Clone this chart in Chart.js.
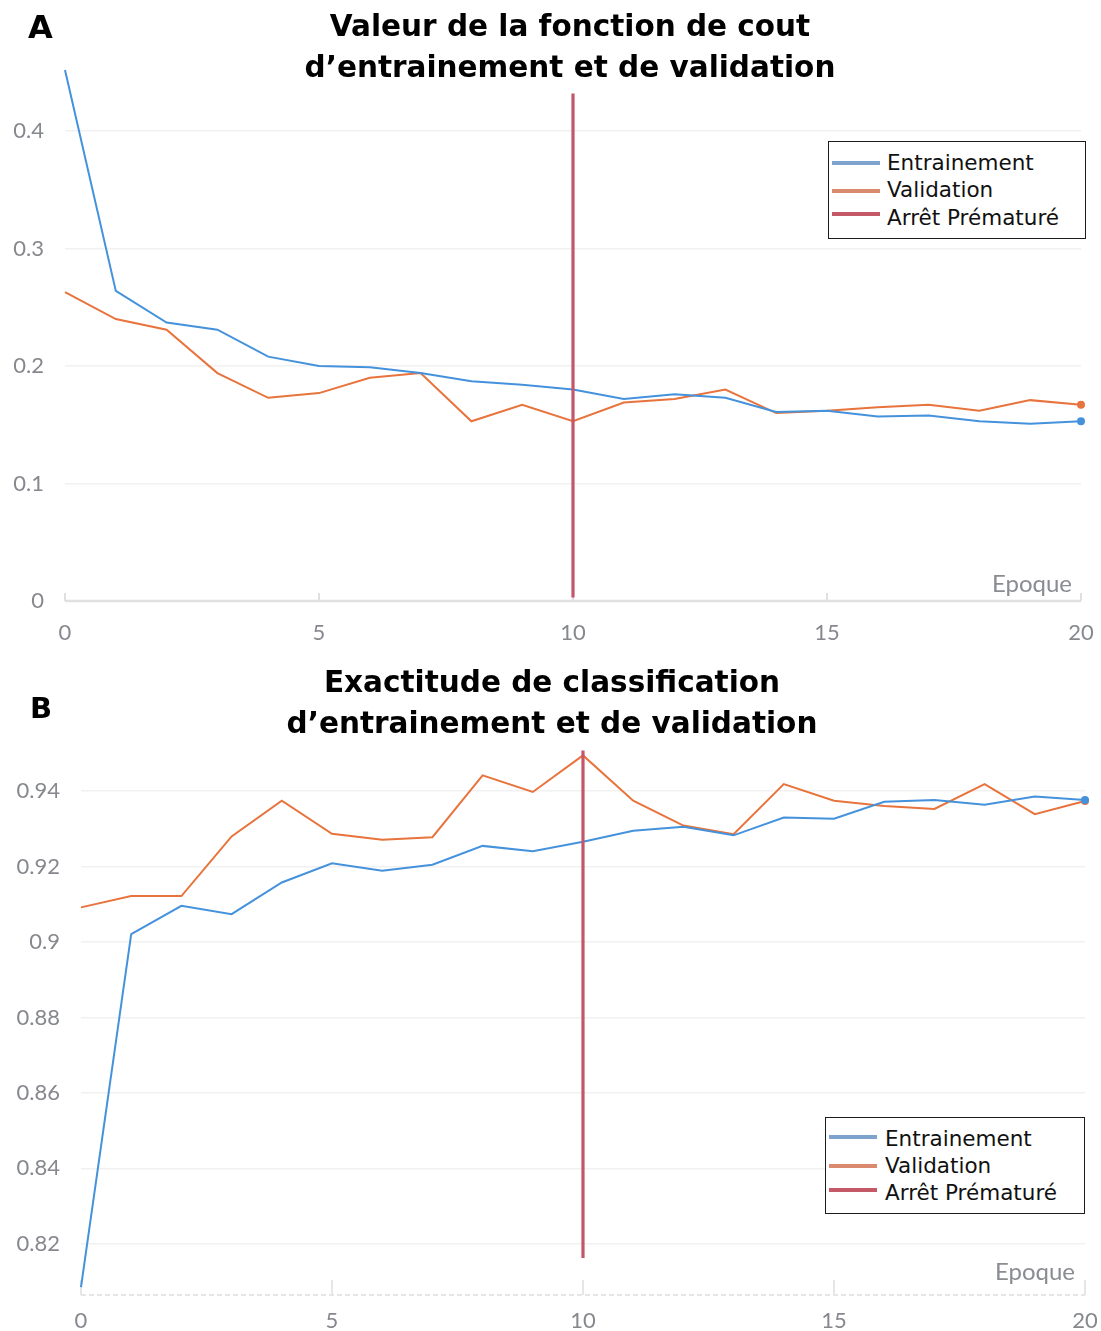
<!DOCTYPE html>
<html>
<head>
<meta charset="utf-8">
<script src="https://cdn.jsdelivr.net/npm/chart.js@4.4.1/dist/chart.umd.min.js"></script>
<style>
  html, body { margin: 0; padding: 0; background: #fff; }
  #page { position: relative; width: 1101px; height: 1331px; overflow: hidden; background: #fff; }
  canvas.cv { position: absolute; left: 0; }
  .title { position: absolute; font-family: "DejaVu Sans"; font-weight: bold; font-size: 29.5px;
           line-height: 41px; color: #000; text-align: center; white-space: nowrap; transform: translateX(-50%); }
  .panel { position: absolute; font-family: "DejaVu Sans"; font-weight: bold; line-height: 32px; color: #000; }
  .legend { position: absolute; border: 1.5px solid #1c1c1c; box-sizing: border-box; background: #fff; }
  .ltext { position: absolute; font-family: "DejaVu Sans"; font-size: 21.5px; line-height: 27px; color: #111; white-space: nowrap; }
  .lline { position: absolute; height: 4px; width: 48px; }
  .axtitle { position: absolute; font-family: Lato; font-size: 24px; line-height: 24px; color: #8a8c92; white-space: nowrap; }
</style>
</head>
<body>
<div id="page">
  <canvas id="lossChart" class="cv" width="1101" height="650" style="top:0px"></canvas>
  <canvas id="accChart" class="cv" width="1101" height="681" style="top:650px"></canvas>

  <div class="panel" style="left:28px;top:11px;font-size:32px">A</div>
  <div class="title" style="left:570px;top:6px">Valeur de la fonction de cout<br>d’entrainement et de validation</div>
  <div class="axtitle" style="right:29px;top:571px">Epoque</div>

  <div class="panel" style="left:30px;top:692px;font-size:29px">B</div>
  <div class="title" style="left:552px;top:662px">Exactitude de classification<br>d’entrainement et de validation</div>
  <div class="axtitle" style="right:26px;top:1259px">Epoque</div>
</div>

<script>
// Epochs and recorded metrics
const epochs = [0, 1, 2, 3, 4, 5, 6, 7, 8, 9, 10, 11, 12, 13, 14, 15, 16, 17, 18, 19, 20];

const lossTrain = [0.452, 0.264, 0.237, 0.231, 0.208, 0.200, 0.199, 0.194, 0.187, 0.184, 0.180,
                   0.172, 0.176, 0.173, 0.161, 0.162, 0.157, 0.158, 0.153, 0.151, 0.153];
const lossVal   = [0.263, 0.240, 0.231, 0.194, 0.173, 0.177, 0.190, 0.194, 0.153, 0.167, 0.153,
                   0.169, 0.172, 0.180, 0.160, 0.162, 0.165, 0.167, 0.162, 0.171, 0.167];

const accTrain = [0.8085, 0.9021, 0.9096, 0.9074, 0.9158, 0.9209, 0.9189, 0.9205, 0.9255, 0.9241, 0.9266,
                  0.9295, 0.9306, 0.9283, 0.9330, 0.9327, 0.9372, 0.9377, 0.9364, 0.9386, 0.9377];
const accVal   = [0.9092, 0.9122, 0.9122, 0.9280, 0.9375, 0.9287, 0.9271, 0.9278, 0.9442, 0.9398, 0.9495,
                  0.9375, 0.9309, 0.9286, 0.9419, 0.9375, 0.9361, 0.9353, 0.9419, 0.9339, 0.9374];

// Early stopping epoch and the vertical extent of its marker on each chart
const stopEpoch = 10;
const lossStopSpan = [0.003, 0.432];
const accStopSpan = [0.8162, 0.9508];

// Axis ticks and ranges
const epochTicks = [0, 5, 10, 15, 20];
const lossTicks = [0, 0.1, 0.2, 0.3, 0.4];
const accTicks = [0.82, 0.84, 0.86, 0.88, 0.9, 0.92, 0.94];
const lossRange = [0, 0.458];
const accRange = [0.8064, 0.9504];

const seriesNames = ['Entrainement', 'Validation', 'Arrêt Prématuré'];
const lineColors = ['#4592dc', '#e8733c', '#c4566a'];
const legendColors = ['#7ea3cc', '#da8a6e', '#c45a68'];

const tickFont = { family: 'Lato', size: 22 };
const tickColor = '#86888e';

function points(values) {
  return values.map((v, i) => ({ x: epochs[i], y: v }));
}

// Axis line with short tick marks rising into the plot area
function epochAxisPlugin(style) {
  return {
    id: 'epochAxis',
    beforeDatasetsDraw(chart) {
      const { ctx, chartArea, scales } = chart;
      const y0 = chartArea.bottom;
      ctx.save();
      ctx.strokeStyle = style.color;
      ctx.lineWidth = style.width;
      ctx.setLineDash(style.dash || []);
      ctx.beginPath();
      ctx.moveTo(chartArea.left, y0);
      ctx.lineTo(chartArea.right, y0);
      ctx.stroke();
      ctx.setLineDash([]);
      ctx.lineWidth = style.tickWidth;
      epochTicks.forEach(t => {
        const x = scales.x.getPixelForValue(t);
        ctx.beginPath();
        ctx.moveTo(x, y0);
        ctx.lineTo(x, y0 - style.tickLen);
        ctx.stroke();
      });
      ctx.restore();
    }
  };
}

function makeChart(canvasId, cfg) {
  const last = epochs.length - 1;
  const endDot = ctx => (ctx.dataIndex === last ? 4 : 0);
  return new Chart(document.getElementById(canvasId), {
    type: 'line',
    data: {
      datasets: [
        { label: seriesNames[2], data: [{ x: stopEpoch, y: cfg.stop[0] }, { x: stopEpoch, y: cfg.stop[1] }],
          borderColor: lineColors[2], borderWidth: 3.2, pointRadius: 0, order: 0, clip: false },
        { label: seriesNames[0], data: points(cfg.train), borderColor: lineColors[0], backgroundColor: lineColors[0],
          borderWidth: 2, pointRadius: endDot, pointBorderWidth: 0, tension: 0, order: 1, clip: 8 },
        { label: seriesNames[1], data: points(cfg.val), borderColor: lineColors[1], backgroundColor: lineColors[1],
          borderWidth: 2, pointRadius: endDot, pointBorderWidth: 0, tension: 0, order: 2, clip: 8 }
      ]
    },
    options: {
      responsive: false,
      animation: false,
      events: [],
      layout: { padding: { top: cfg.padTop, right: cfg.padRight, left: 0, bottom: 0 } },
      plugins: { legend: { display: false }, tooltip: { enabled: false }, title: { display: false } },
      scales: {
        x: {
          type: 'linear', min: 0, max: 20,
          afterBuildTicks: s => { s.ticks = epochTicks.map(v => ({ value: v })); },
          afterFit: s => { s.height = cfg.xHeight; s.paddingLeft = 0; s.paddingRight = 0; },
          grid: { display: false, drawTicks: false },
          border: { display: false },
          ticks: { font: tickFont, color: tickColor, padding: cfg.xPad, maxRotation: 0 }
        },
        y: {
          min: cfg.range[0], max: cfg.range[1],
          afterBuildTicks: s => { s.ticks = cfg.yTicks.map(v => ({ value: v })); },
          afterFit: s => { s.width = cfg.yWidth; s.paddingTop = 0; s.paddingBottom = 0; },
          grid: { color: '#f1f1f2', lineWidth: 1.5, drawTicks: false },
          border: { display: false },
          ticks: { font: tickFont, color: tickColor, padding: 21, callback: v => String(Number(v.toFixed(2))) }
        }
      }
    },
    plugins: [epochAxisPlugin(cfg.axis)]
  });
}

makeChart('lossChart', {
  train: lossTrain, val: lossVal, stop: lossStopSpan, range: lossRange, yTicks: lossTicks,
  padTop: 63, padRight: 20, xHeight: 49, yWidth: 65, xPad: 19,
  axis: { color: '#e0e0e3', width: 2.5, tickWidth: 2, tickLen: 8 }
});

makeChart('accChart', {
  train: accTrain, val: accVal, stop: accStopSpan, range: accRange, yTicks: accTicks,
  padTop: 102, padRight: 16, xHeight: 36, yWidth: 81, xPad: 13,
  axis: { color: '#e6e6e8', width: 2, dash: [5, 3], tickWidth: 2, tickLen: 15 }
});

// Boxed legends
function buildLegend(box, rowsY, samplesY, textX) {
  const page = document.getElementById('page');
  const lg = document.createElement('div');
  lg.className = 'legend';
  Object.assign(lg.style, { left: box[0] + 'px', top: box[1] + 'px', width: (box[2] - box[0]) + 'px', height: (box[3] - box[1]) + 'px' });
  page.appendChild(lg);
  seriesNames.forEach((name, i) => {
    const ln = document.createElement('div');
    ln.className = 'lline';
    Object.assign(ln.style, { left: (box[0] + 4) + 'px', top: (samplesY[i] - 2) + 'px', background: legendColors[i] });
    page.appendChild(ln);
    const tx = document.createElement('div');
    tx.className = 'ltext';
    tx.textContent = name;
    Object.assign(tx.style, { left: textX + 'px', top: (rowsY[i] - 21) + 'px' });
    page.appendChild(tx);
  });
}

buildLegend([828, 141, 1086, 239], [170, 197, 225], [162.5, 190.5, 213.5], 887);
buildLegend([825, 1117, 1085, 1214], [1145.5, 1172.5, 1200], [1137, 1166, 1189.5], 885);
</script>
</body>
</html>
